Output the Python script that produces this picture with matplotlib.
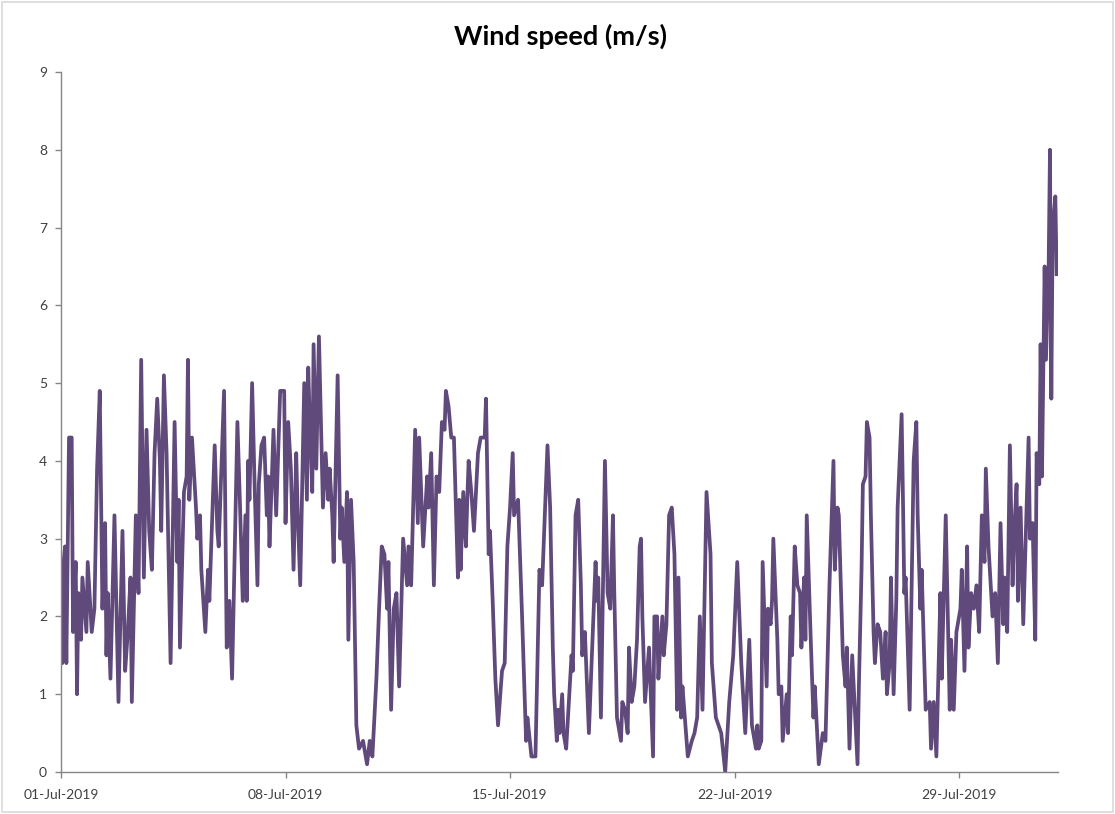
import matplotlib
matplotlib.use("Agg")
import matplotlib.pyplot as plt
import matplotlib.dates as mdates
from matplotlib.patches import Rectangle
import pandas as pd

# ---- data (hours since 01-Jul-2019 00:00, wind speed m/s) ----
hours = [0, 1, 2, 3, 4, 6, 8, 9, 11, 12, 13, 15, 16, 19, 20, 23, 25, 27, 29, 31,
         33, 34, 35, 37, 40, 43, 46, 48, 50, 52, 53, 56, 58, 60, 62, 64, 66, 68, 70, 72,
         74, 75, 77, 79, 82, 85, 87, 88, 89, 92, 94, 95, 96, 98, 101, 102, 104, 105, 108, 110,
         111, 115, 117, 118, 122, 124, 126, 128, 132, 134, 136, 138, 139, 140, 141, 143, 145, 147, 148, 150,
         152, 154, 155, 156, 159, 161, 164, 167, 168, 170, 172, 174, 176, 177, 179, 182, 184, 185, 186, 188,
         189, 191, 193, 196, 198, 200, 201, 203, 204, 207, 209, 210, 212, 214, 215, 217, 219, 221, 223, 226,
         229, 231, 233, 236, 238, 240, 242, 244, 245, 247, 249, 251, 253, 256, 259, 260, 262, 265, 267, 268,
         271, 274, 275, 277, 279, 281, 283, 285, 287, 288, 290, 292, 294, 297, 298, 299, 301, 303, 304, 305,
         307, 309, 312, 314, 317, 318, 320, 321, 323, 325, 327, 330, 332, 334, 336, 338, 339, 342, 345, 348,
         349, 352, 355, 358, 360, 364, 366, 368, 369, 371, 372, 373, 375, 376, 378, 380, 382, 383, 385, 387,
         389, 390, 392, 395, 397, 400, 401, 402, 404, 407, 409, 411, 413, 414, 416, 419, 420, 422, 424, 425,
         427, 429, 431, 433, 434, 435, 437, 440, 443, 444, 446, 447, 448, 450, 451, 453, 455, 457, 459, 461,
         462, 464, 465, 469, 472, 474, 476, 478, 480, 483, 486, 487, 490, 494, 497, 500, 503, 506, 509, 512,
         515, 517, 520, 521, 522, 524, 525, 528, 529, 531, 532, 533, 536, 537, 539, 540, 543, 544, 546, 547,
         549, 551, 553, 554, 556, 557, 558, 561, 563, 564, 567, 570, 572, 575, 578, 579, 581, 582, 585, 587,
         588, 590, 592, 596, 597, 599, 600, 602, 603, 605, 606, 608, 609, 611, 613, 615, 617, 618, 620, 621,
         623, 625, 626, 629, 630, 631, 632, 635, 638, 640, 641, 643, 644, 647, 650, 651, 653, 655, 658, 659,
         662, 665, 666, 668, 670, 673, 674, 676, 678, 679, 681, 683, 685, 687, 689, 691, 692, 694, 697, 699,
         701, 703, 705, 706, 708, 710, 712, 713, 715, 716, 718, 720, 724, 725, 727, 729, 730, 732, 733, 734,
         736, 737, 739, 740, 741, 742, 744, 745]

speed = [2.4, 1.4, 2.7, 2.9, 1.4, 4.3, 4.3, 1.8, 2.7, 1.0, 2.3, 1.7, 2.5, 1.8, 2.7, 1.8, 2.1, 3.9, 4.9, 2.1,
         3.2, 1.5, 2.3, 1.2, 3.3, 0.9, 3.1, 1.3, 1.8, 2.5, 0.9, 3.3, 2.3, 5.3, 2.5, 4.4, 3.1, 2.6, 4.1, 4.8,
         4.0, 3.1, 5.1, 4.1, 1.4, 4.5, 2.7, 3.5, 1.6, 3.6, 3.8, 5.3, 3.5, 4.3, 3.4, 3.0, 3.3, 2.6, 1.8, 2.6,
         2.2, 4.2, 3.1, 2.9, 4.9, 1.6, 2.2, 1.2, 4.5, 3.4, 2.2, 3.3, 2.2, 4.0, 3.5, 5.0, 3.6, 2.4, 3.7, 4.2,
         4.3, 3.3, 3.8, 2.9, 4.4, 3.3, 4.9, 4.9, 3.2, 4.5, 3.9, 2.6, 4.1, 3.4, 2.4, 5.0, 3.5, 5.2, 4.6, 3.6,
         5.5, 3.9, 5.6, 3.4, 4.1, 3.5, 3.9, 3.3, 2.7, 5.1, 3.0, 3.4, 2.7, 3.6, 1.7, 3.5, 2.7, 0.6, 0.3, 0.4,
         0.1, 0.4, 0.2, 1.2, 2.1, 2.9, 2.8, 2.1, 2.7, 0.8, 2.1, 2.3, 1.1, 3.0, 2.4, 2.9, 2.4, 4.4, 3.2, 4.3,
         2.9, 3.8, 3.4, 4.1, 2.4, 3.8, 3.6, 4.5, 4.4, 4.9, 4.7, 4.3, 4.3, 2.5, 3.5, 2.6, 3.6, 2.9, 3.5, 4.0,
         3.6, 3.1, 4.1, 4.3, 4.3, 4.8, 2.8, 3.1, 2.2, 1.2, 0.6, 1.3, 1.4, 2.9, 3.4, 4.1, 3.3, 3.5, 2.0, 0.4,
         0.7, 0.2, 0.2, 2.6, 2.4, 4.2, 3.4, 1.6, 1.0, 0.4, 0.8, 0.5, 1.0, 0.5, 0.3, 0.9, 1.5, 1.3, 3.3, 3.5,
         2.4, 1.5, 1.8, 0.5, 1.4, 2.7, 2.2, 2.5, 0.7, 4.0, 2.3, 2.1, 3.3, 2.3, 0.7, 0.4, 0.9, 0.8, 0.5, 1.6,
         0.9, 1.1, 1.7, 2.9, 3.0, 2.0, 0.9, 1.6, 0.2, 2.0, 2.0, 1.2, 1.5, 2.0, 1.5, 1.9, 3.3, 3.4, 2.8, 0.8,
         2.5, 0.7, 1.1, 0.2, 0.4, 0.5, 0.7, 2.0, 0.8, 3.6, 2.8, 1.4, 0.7, 0.5, 0.0, 0.9, 1.5, 2.7, 1.4, 0.5,
         1.7, 0.6, 0.3, 0.6, 0.3, 0.4, 2.7, 1.1, 2.1, 1.9, 2.2, 3.0, 1.7, 1.0, 1.1, 0.4, 1.0, 0.5, 2.0, 1.5,
         2.9, 2.4, 2.3, 1.6, 2.5, 1.7, 3.3, 1.7, 0.7, 1.1, 0.1, 0.5, 0.4, 2.4, 4.0, 2.6, 3.4, 3.3, 1.5, 1.1,
         1.6, 0.3, 1.5, 0.1, 1.1, 2.6, 3.7, 3.8, 4.5, 4.3, 3.3, 1.8, 1.4, 1.9, 1.8, 1.2, 1.8, 1.0, 1.4, 2.5,
         1.0, 2.2, 3.4, 4.6, 3.5, 2.3, 2.5, 0.8, 4.0, 4.5, 3.3, 2.1, 2.6, 0.8, 0.9, 0.3, 0.9, 0.2, 2.3, 1.2,
         3.3, 0.8, 1.7, 0.8, 1.8, 2.1, 2.6, 1.3, 2.9, 1.6, 2.3, 2.1, 2.4, 1.8, 3.3, 2.7, 3.9, 2.9, 2.0, 2.3,
         1.4, 3.2, 1.9, 2.5, 1.8, 4.2, 2.4, 3.0, 3.7, 2.2, 3.4, 1.9, 4.3, 3.0, 3.2, 1.7, 4.1, 3.7, 5.5, 3.8,
         6.5, 5.3, 6.5, 8.0, 4.8, 7.0, 7.4, 6.4]

y_ticks = [0, 1, 2, 3, 4, 5, 6, 7, 8, 9]
x_tick_dates = ["2019-07-01", "2019-07-08", "2019-07-15", "2019-07-22", "2019-07-29"]
title = "Wind speed (m/s)"

start = pd.Timestamp("2019-07-01")
times = start + pd.to_timedelta(hours, unit="h")

plt.rcParams['font.family'] = ['Lato', 'DejaVu Sans']

fig = plt.figure(figsize=(11.15, 8.14), dpi=100)
fig.patches.append(Rectangle((0.002, 0.002), 0.996, 0.995, transform=fig.transFigure,
                             fill=False, edgecolor='#d9d9d9', linewidth=1.2))
ax = fig.add_axes([61 / 1115, 1 - 772 / 814, (1058 - 61) / 1115, (772 - 72) / 814])

ax.plot(times, speed, color='#604a7b', linewidth=2.7, solid_joinstyle='round')

ax.set_ylim(0, 9)
ax.set_yticks(y_ticks)
ax.set_xlim(start, start + pd.Timedelta(hours=746))
ax.set_xticks(pd.to_datetime(x_tick_dates))
ax.xaxis.set_major_formatter(mdates.DateFormatter('%d-%b-%Y'))

for s in ['top', 'right']:
    ax.spines[s].set_visible(False)
for s in ['left', 'bottom']:
    ax.spines[s].set_color('#868686')
    ax.spines[s].set_linewidth(1.0)
ax.tick_params(axis='both', colors='#868686', labelcolor='#404040', labelsize=10, length=4, width=1)
ax.tick_params(axis='x', pad=8)
ax.tick_params(axis='y', pad=6)

fig.text(560 / 1115, 1 - 36 / 814, title, ha='center', va='center', fontsize=19.5, fontweight='bold', color='black')

fig.savefig('out.png', dpi=100)
